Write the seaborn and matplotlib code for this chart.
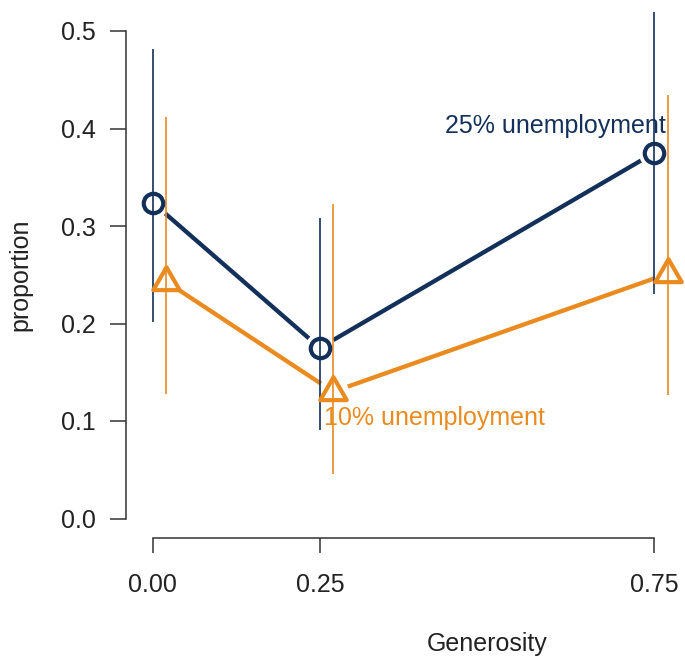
import numpy as np
import pandas as pd
import matplotlib
matplotlib.use("Agg")
import matplotlib.pyplot as plt
from matplotlib.path import Path
import seaborn as sns

# --- Data ---
generosity = [0.00, 0.25, 0.75]
tick_labels = ["0.00", "0.25", "0.75"]
groups = ["25% unemployment", "10% unemployment"]
prop_25 = [0.324, 0.175, 0.375]
lo_25 = [0.202, 0.091, 0.230]
hi_25 = [0.482, 0.308, 0.530]
prop_10 = [0.243, 0.130, 0.251]
lo_10 = [0.128, 0.046, 0.127]
hi_10 = [0.412, 0.323, 0.434]

navy = "#13305a"
orange = "#e98b1f"
colors = {groups[0]: navy, groups[1]: orange}
offsets = {groups[0]: 0.0, groups[1]: 0.02}

df = pd.concat([
    pd.DataFrame({"group": groups[0], "generosity": generosity,
                  "proportion": prop_25, "lo": lo_25, "hi": hi_25}),
    pd.DataFrame({"group": groups[1], "generosity": generosity,
                  "proportion": prop_10, "lo": lo_10, "hi": hi_10}),
], ignore_index=True)
df["xpos"] = df["generosity"] + df["group"].map(offsets)

# R-style triangle (pch=2), centred on its centroid
tri = Path([(0, 1.555), (1.347, -0.778), (-1.347, -0.778), (0, 1.555)],
           [Path.MOVETO, Path.LINETO, Path.LINETO, Path.CLOSEPOLY])
markers = {groups[0]: ("o", 14), groups[1]: (tri, 22)}

sns.set_style("white")
plt.rcParams["font.family"] = ["Liberation Sans", "DejaVu Sans"]
fig = plt.figure(figsize=(6.85, 6.62), dpi=100)
ax = fig.add_axes([126 / 685, 1 - 538 / 662, (848 - 126) / 685, (538 - 11.5) / 662])

# --- lines ---
sns.lineplot(data=df, x="xpos", y="proportion", hue="group", palette=colors,
             lw=3.1, legend=False, ax=ax, zorder=2)

# --- gaps around points (type = "b") ---
ax.scatter(df["xpos"], df["proportion"], s=(31 * 0.72) ** 2, c="white",
           linewidths=0, zorder=2.5)

# --- error bars ---
for g, sub in df.groupby("group"):
    ax.vlines(sub["xpos"], sub["lo"], sub["hi"], color=colors[g], lw=1.2, zorder=3)

# --- hollow markers ---
for g, sub in df.groupby("group"):
    m, ms = markers[g]
    sns.lineplot(data=sub, x="xpos", y="proportion", linestyle="", marker=m,
                 markersize=ms, markerfacecolor="none", markeredgecolor=colors[g],
                 markeredgewidth=3.0, ax=ax, zorder=4)

# --- labels ---
ax.text(0.602, 0.403, groups[0], color=navy, fontsize=18, ha="center", va="center")
ax.text(0.422, 0.103, groups[1], color=orange, fontsize=18, ha="center", va="center")

ax.set_xlim(-0.04, 1.04)
ax.set_ylim(-0.02, 0.52)
ax.set_xticks(generosity)
ax.set_xticklabels(tick_labels)
ax.set_yticks(np.arange(0, 0.51, 0.1))
ax.set_yticklabels([f"{v:.1f}" for v in np.arange(0, 0.51, 0.1)])
ax.tick_params(axis="both", labelsize=18, colors="#333333", labelcolor="#222222",
               width=1.1, bottom=True, left=True)
ax.tick_params(axis="x", length=11, pad=14)
ax.tick_params(axis="y", length=11.5, pad=10)

for s in ["top", "right"]:
    ax.spines[s].set_visible(False)
for s in ["left", "bottom"]:
    ax.spines[s].set_color("#333333")
    ax.spines[s].set_linewidth(1.1)
ax.spines["left"].set_bounds(0, 0.5)
ax.spines["bottom"].set_bounds(0, 0.75)

ax.set_xlabel("Generosity", fontsize=18, color="#222222")
ax.set_ylabel("proportion", fontsize=18, color="#222222")
ax.xaxis.set_label_coords(0.5, -0.178)
ax.yaxis.set_label_coords(-0.129, 0.5)
ax.patch.set_alpha(0)

fig.savefig("out.png", dpi=100)
